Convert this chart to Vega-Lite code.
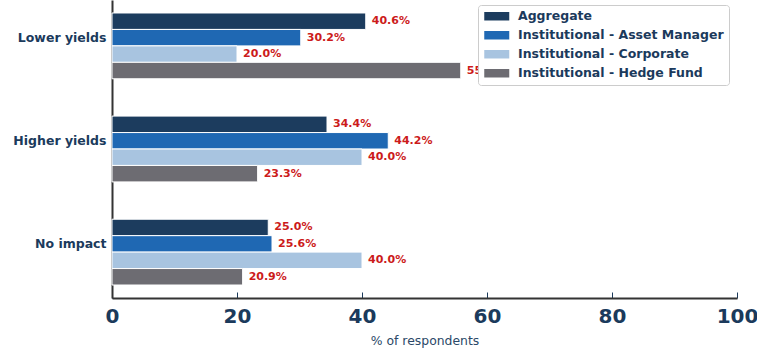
{
  "$schema": "https://vega.github.io/schema/vega-lite/v6.json",
  "width": 625,
  "height": 298,
  "autosize": {"type": "none"},
  "padding": {"left": 112, "top": 0, "right": 20, "bottom": 53},
  "background": "white",
  "config": {
    "font": "DejaVu Sans",
    "view": {"stroke": null}
  },
  "data": {
    "values": [
      {"impact": "Lower yields", "group": "Aggregate", "value": 40.6},
      {"impact": "Lower yields", "group": "Institutional - Asset Manager", "value": 30.2},
      {"impact": "Lower yields", "group": "Institutional - Corporate", "value": 20.0},
      {"impact": "Lower yields", "group": "Institutional - Hedge Fund", "value": 55.8},
      {"impact": "Higher yields", "group": "Aggregate", "value": 34.4},
      {"impact": "Higher yields", "group": "Institutional - Asset Manager", "value": 44.2},
      {"impact": "Higher yields", "group": "Institutional - Corporate", "value": 40.0},
      {"impact": "Higher yields", "group": "Institutional - Hedge Fund", "value": 23.3},
      {"impact": "No impact", "group": "Aggregate", "value": 25.0},
      {"impact": "No impact", "group": "Institutional - Asset Manager", "value": 25.6},
      {"impact": "No impact", "group": "Institutional - Corporate", "value": 40.0},
      {"impact": "No impact", "group": "Institutional - Hedge Fund", "value": 20.9}
    ]
  },
  "transform": [
    {"calculate": "format(datum.value, '.1f') + '%'", "as": "label"}
  ],
  "encoding": {
    "y": {
      "field": "impact",
      "type": "nominal",
      "sort": ["Lower yields", "Higher yields", "No impact"],
      "scale": {"paddingInner": 0.362, "paddingOuter": 0.126},
      "axis": {
        "title": null,
        "labelFont": "DejaVu Sans",
        "labelFontSize": 12.5,
        "labelFontWeight": "bold",
        "labelColor": "#1b3a5c",
        "labelPadding": 12,
        "tickOffset": -8.5,
        "tickSize": -6,
        "tickColor": "#1b3a5c",
        "tickWidth": 1,
        "domainColor": "#333333",
        "domainWidth": 2
      }
    },
    "yOffset": {
      "field": "group",
      "type": "nominal",
      "sort": ["Aggregate", "Institutional - Asset Manager", "Institutional - Corporate", "Institutional - Hedge Fund"]
    },
    "x": {
      "field": "value",
      "type": "quantitative",
      "scale": {"domain": [0, 100], "nice": false},
      "axis": {
        "title": "% of respondents",
        "titleFont": "DejaVu Sans",
        "titleFontSize": 12.4,
        "titleFontWeight": "normal",
        "titleColor": "#2a4868",
        "titlePadding": 8,
        "values": [0, 20, 40, 60, 80, 100],
        "grid": false,
        "labelFont": "DejaVu Sans",
        "labelFontSize": 20,
        "labelFontWeight": "bold",
        "labelColor": "#1b3a5c",
        "labelPadding": 14,
        "labelFlush": false,
        "tickSize": -6,
        "tickColor": "#1b3a5c",
        "tickWidth": 1,
        "domainColor": "#333333",
        "domainWidth": 2
      }
    }
  },
  "layer": [
    {
      "mark": {"type": "bar", "stroke": "white", "strokeWidth": 1},
      "encoding": {
        "color": {
          "field": "group",
          "type": "nominal",
          "sort": ["Aggregate", "Institutional - Asset Manager", "Institutional - Corporate", "Institutional - Hedge Fund"],
          "scale": {
            "domain": ["Aggregate", "Institutional - Asset Manager", "Institutional - Corporate", "Institutional - Hedge Fund"],
            "range": ["#1c3c5e", "#1f68b3", "#a8c4e0", "#6d6c72"]
          },
          "legend": {
            "title": null,
            "orient": "none",
            "legendX": 366,
            "legendY": 5,
            "padding": 5,
            "fillColor": "white",
            "strokeColor": "#cccccc",
            "cornerRadius": 3,
            "labelFont": "DejaVu Sans",
            "labelFontSize": 12.5,
            "labelFontWeight": "bold",
            "labelColor": "#1b3a5c",
            "labelLimit": 300,
            "symbolType": "M-2.5,-0.85H2.5V0.85H-2.5Z",
            "symbolSize": 100,
            "symbolOffset": 7.5,
            "symbolStrokeWidth": 0,
            "symbolOpacity": 1,
            "rowPadding": 6,
            "labelOffset": 15
          }
        }
      }
    },
    {
      "mark": {
        "type": "text",
        "align": "left",
        "baseline": "middle",
        "dx": 6,
        "font": "DejaVu Sans",
        "fontSize": 11,
        "fontWeight": "bold",
        "color": "#cc1b1b"
      },
      "encoding": {
        "text": {"field": "label", "type": "nominal"}
      }
    }
  ]
}
